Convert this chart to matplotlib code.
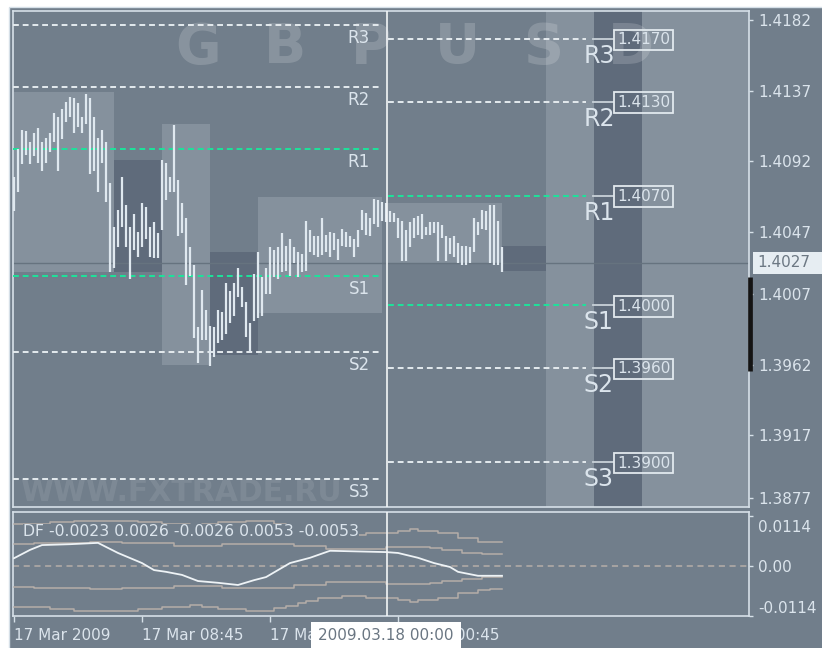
import matplotlib
matplotlib.use('Agg')
import matplotlib.pyplot as plt
import matplotlib.transforms as mtransforms
from matplotlib.patches import Rectangle
import numpy as np

# ---------------- data ----------------
# 15-minute GBPUSD bars, bar 0 = 17 Mar 2009 00:45
bar_high = [1.4082, 1.4100, 1.4112, 1.4111, 1.4104, 1.4110, 1.4113, 1.4104, 1.4107, 1.4110,
            1.4123, 1.4120, 1.4125, 1.4130, 1.4133, 1.4132, 1.4129, 1.4120, 1.4135, 1.4132,
            1.4120, 1.4107, 1.4112, 1.4104, 1.4078, 1.4050, 1.4061, 1.4082, 1.4064, 1.4050,
            1.4058, 1.4047, 1.4065, 1.4063, 1.4050, 1.4053, 1.4046, 1.4093, 1.4091, 1.4082,
            1.4115, 1.4080, 1.4065, 1.4056, 1.4037, 1.4026, 1.3986, 1.4010, 1.3997, 1.3987,
            1.3986, 1.3997, 1.3996, 1.4014, 1.4009, 1.4014, 1.4024, 1.4012, 1.4002, 1.3989,
            1.4020, 1.4034, 1.4018, 1.4024, 1.4037, 1.4035, 1.4037, 1.4046, 1.4038, 1.4042,
            1.4037, 1.4034, 1.4033, 1.4054, 1.4048, 1.4044, 1.4044, 1.4056, 1.4045, 1.4047,
            1.4046, 1.4042, 1.4049, 1.4047, 1.4044, 1.4042, 1.4048, 1.4061, 1.4059, 1.4056,
            1.4068, 1.4067, 1.4066, 1.4065, 1.4060, 1.4059, 1.4056, 1.4054, 1.4048, 1.4053,
            1.4056, 1.4057, 1.4058, 1.4050, 1.4053, 1.4053, 1.4053, 1.4051, 1.4044, 1.4043,
            1.4044, 1.4040, 1.4038, 1.4038, 1.4037, 1.4056, 1.4053, 1.4061, 1.4060, 1.4064,
            1.4064, 1.4054, 1.4037]
bar_low = [1.4060, 1.4072, 1.4090, 1.4096, 1.4090, 1.4095, 1.4091, 1.4086, 1.4091, 1.4098,
           1.4104, 1.4086, 1.4106, 1.4117, 1.4120, 1.4110, 1.4114, 1.4110, 1.4116, 1.4084,
           1.4086, 1.4072, 1.4091, 1.4066, 1.4021, 1.4024, 1.4037, 1.4050, 1.4037, 1.4017,
           1.4035, 1.4031, 1.4037, 1.4042, 1.4031, 1.4030, 1.4030, 1.4048, 1.4067, 1.4072,
           1.4072, 1.4044, 1.4046, 1.4013, 1.4019, 1.3979, 1.3963, 1.3978, 1.3978, 1.3961,
           1.3967, 1.3976, 1.3978, 1.3982, 1.3989, 1.3993, 1.4005, 1.3999, 1.3980, 1.3970,
           1.3990, 1.3992, 1.3993, 1.4007, 1.4007, 1.4018, 1.4017, 1.4021, 1.4022, 1.4019,
           1.4027, 1.4018, 1.4021, 1.4022, 1.4034, 1.4032, 1.4031, 1.4032, 1.4034, 1.4031,
           1.4035, 1.4029, 1.4038, 1.4037, 1.4037, 1.4031, 1.4037, 1.4048, 1.4045, 1.4044,
           1.4052, 1.4050, 1.4054, 1.4053, 1.4053, 1.4053, 1.4043, 1.4028, 1.4028, 1.4037,
           1.4043, 1.4045, 1.4042, 1.4045, 1.4045, 1.4046, 1.4028, 1.4043, 1.4028, 1.4033,
           1.4031, 1.4027, 1.4026, 1.4026, 1.4027, 1.4034, 1.4045, 1.4049, 1.4048, 1.4027,
           1.4026, 1.4026, 1.4021]
last_price = 1.4027

# trading-session boxes (bar start, bar end, high, low, shade); nan = future session
session_start = [0, 25, 37, 49, 61, 93, 122, 133, 145, 157]
session_end = [25, 37, 49, 61, 92, 122, 133, 145, 157, 190]
session_high = [1.4136, 1.4093, 1.4116, 1.4034, 1.4069, 1.4065, 1.4038, np.nan, np.nan, np.nan]
session_low = [1.4021, 1.4021, 1.3962, 1.3968, 1.3995, 1.4027, 1.4022, np.nan, np.nan, np.nan]
session_shade = ['light', 'dark', 'light', 'dark', 'light', 'light', 'dark', 'light', 'dark', 'light']

pivot_names = ['R3', 'R2', 'R1', 'S1', 'S2', 'S3']
prev_day_pivots = [1.4179, 1.4139, 1.4100, 1.4019, 1.3970, 1.3889]
cur_day_pivots = [1.4170, 1.4130, 1.4070, 1.4000, 1.3960, 1.3900]

range_marker = [1.3958, 1.4018]

price_ticks = [1.4182, 1.4137, 1.4092, 1.4047, 1.4007, 1.3962, 1.3917, 1.3877]
time_tick_bars = [0, 32, 64, 96]
time_tick_labels = ['17 Mar 2009', '17 Mar 08:45', '17 Mar 16:45', '18 Mar 00:45']
cross_bar = 93.25
cross_label = '2009.03.18 00:00'

# DF indicator
df_x = [0, 4, 7, 14, 21, 26, 32, 35, 38, 42, 46, 51, 56, 60, 63, 66, 69, 74, 79,
        93, 96, 101, 105, 109, 111, 116, 122]
df_v = [0.0017, 0.0036, 0.0047, 0.0049, 0.0052, 0.0029, 0.0006, -0.0010, -0.0014,
        -0.0021, -0.0035, -0.0039, -0.0044, -0.0033, -0.0026, -0.0010, 0.0006, 0.0018,
        0.0034, 0.0031, 0.0029, 0.0018, 0.0006, -0.0003, -0.0014, -0.0023, -0.0023]
inner_x = [0, 5, 19, 27, 40, 52, 70, 78, 93, 104, 107, 112, 117, 122]
inner_w = [0.0049, 0.0051, 0.0054, 0.0051, 0.0046, 0.0050, 0.0044, 0.0037, 0.0042,
           0.0040, 0.0035, 0.0030, 0.0026, 0.0026]
outer_x = [0, 9, 15, 31, 37, 44, 47, 51, 58, 65, 68, 71, 73, 76, 82, 88, 96, 99, 101,
           106, 111, 116, 119, 122]
outer_w = [0.0094, 0.0099, 0.0103, 0.0099, 0.0094, 0.0090, 0.0094, 0.0099, 0.0103,
           0.0096, 0.0092, 0.0085, 0.0080, 0.0074, 0.0069, 0.0074, 0.0078, 0.0083,
           0.0078, 0.0074, 0.0062, 0.0055, 0.0053, 0.0053]
ind_ticks = [0.0114, 0.0, -0.0114]
ind_tick_labels = ['0.0114', '0.00', '-0.0114']

# ---------------- style ----------------
BG = '#717e8b'
LIGHT_BOX = '#85919d'
DARK_BOX = '#5f6b7b'
FRAME = '#d6e0e8'
TXT = '#dbe4ec'
BARC = '#dfe8ef'
GREEN = '#1de39b'
DASHW = '#e4eaee'
BAND = '#b5aea9'
plt.rcParams['font.family'] = ['DejaVu Sans']

W, H, DPI = 822, 648, 100
fig = plt.figure(figsize=(W / DPI, H / DPI), dpi=DPI, facecolor='white')


def fx(px):
    return px / W


def fy(py):
    return 1 - py / H


fig.add_artist(Rectangle((fx(9), -0.05), 1.1, fy(7) + 0.05, transform=fig.transFigure,
                         fc=BG, ec=FRAME, lw=1.0, zorder=0))

ax = fig.add_axes([fx(13), fy(507), fx(749) - fx(13), fy(11) - fy(507)], facecolor=BG)
axi = fig.add_axes([fx(13), fy(616), fx(749) - fx(13), fy(512) - fy(616)], facecolor=BG)

XMIN, XMAX = -0.25, 183.75
ax.set_xlim(XMIN, XMAX)
ax.set_ylim(1.38713, 1.41878)
axi.set_xlim(XMIN, XMAX)
axi.set_ylim(-0.01147, 0.01224)

for a in (ax, axi):
    for s in a.spines.values():
        s.set_color(FRAME)
        s.set_linewidth(1.2)

# sessions
ylo, yhi = ax.get_ylim()
for s, e, hi, lo, sh in zip(session_start, session_end, session_high, session_low, session_shade):
    col = LIGHT_BOX if sh == 'light' else DARK_BOX
    if np.isnan(hi):
        hi, lo = yhi + 1, ylo - 1
    ax.add_patch(Rectangle((s, lo), e - s, hi - lo, fc=col, ec='none', zorder=1))

# watermarks
for k, ch in enumerate('GBPUSD'):
    ax.text((198 + 86.6 * k - 13) / 736, 0.925, ch, transform=ax.transAxes, ha='center',
            va='center', fontsize=40, fontweight='bold', color='white', alpha=0.17, zorder=1.5)
ax.text((20 - 13) / 736, 0.030, 'WWW.FXTRADE.RU', transform=ax.transAxes, ha='left',
        va='center', fontsize=21.5, fontweight='bold', color='white', alpha=0.09, zorder=1.5)

# current price line
ax.axhline(last_price, color='#66737f', lw=1.0, zorder=2)

# previous-day pivots
n_bars = len(bar_high)
day_split = 92
for name, v in zip(pivot_names, prev_day_pivots):
    col = GREEN if name in ('R1', 'S1') else DASHW
    ax.plot([XMIN, day_split], [v, v], color=col, lw=1.4, dashes=(3, 2), zorder=3)
    ax.annotate(name, xy=(89, v), xytext=(0, -13), textcoords='offset pixels', ha='right',
                va='center', fontsize=12, color=TXT, zorder=5)

# current-day pivots
for name, v in zip(pivot_names, cur_day_pivots):
    col = GREEN if name in ('R1', 'S1') else DASHW
    ax.plot([93.5, 143], [v, v], color=col, lw=1.4, dashes=(3, 2), zorder=3)
    ax.plot([144.75, 149.75], [v, v], color='#c9d2d9', lw=1.3, zorder=3)
    ax.annotate(name, xy=(142.3, v), xytext=(0, -17), textcoords='offset pixels', ha='left',
                va='center', fontsize=17, color=TXT, zorder=5)
    ax.annotate(f'{v:.4f}', xy=(150, v), xytext=(3, -1), textcoords='offset pixels', ha='left',
                va='center', fontsize=11, color=TXT, zorder=5,
                bbox=dict(boxstyle='square,pad=0.18', fc='none', ec='#e2e9ee', lw=1.3))

# bars
idx = np.arange(n_bars)
ax.vlines(idx, bar_low, bar_high, color=BARC, lw=1.6, zorder=4)

# crosshair
ax.axvline(cross_bar, color='#f2f5f7', lw=1.2, zorder=6)
axi.axvline(cross_bar, color='#f2f5f7', lw=1.2, zorder=6)

# range marker at the right edge
ax.plot([184, 184], range_marker, color='#141414', lw=3.4, solid_capstyle='butt',
        clip_on=False, zorder=7)

# price axis
ax.set_xticks([])
ax.yaxis.tick_right()
ax.set_yticks(price_ticks)
ax.set_yticklabels([f'{v:.4f}' for v in price_ticks])
ax.tick_params(axis='y', colors=FRAME, labelcolor=TXT, labelsize=11, length=3, width=1,
               pad=3.5, direction='out')

# current price tag
tr = mtransforms.blended_transform_factory(ax.transAxes, ax.transData)
ax.add_patch(Rectangle((1 + 4 / 736, last_price - 0.00070), 80 / 736, 0.00140, transform=tr,
                       fc='#e6edf2', ec='none', clip_on=False, zorder=8))
ax.text(1 + 8 / 736, last_price, f'{last_price:.4f}', transform=tr, ha='left', va='center',
        fontsize=11, color='#6c7883', zorder=9, clip_on=False)

# indicator
axi.axhline(0, color=BAND, lw=1.1, dashes=(4, 3), zorder=2)
ix = np.array(inner_x)
iw = np.array(inner_w)
ox = np.array(outer_x)
ow = np.array(outer_w)
axi.plot(ix, iw, drawstyle='steps-post', color=BAND, lw=1.1, zorder=3)
axi.plot(ix, -iw, drawstyle='steps-post', color=BAND, lw=1.1, zorder=3)
axi.plot(ox, ow, drawstyle='steps-post', color=BAND, lw=1.1, zorder=3)
axi.plot(ox, -ow, drawstyle='steps-post', color=BAND, lw=1.1, zorder=3)
axi.plot(df_x, df_v, color='#eef3f6', lw=1.3, zorder=4)

legend = (f'DF {df_v[-1]:.4f} {inner_w[-1]:.4f} {-inner_w[-1]:.4f} '
          f'{outer_w[-1]:.4f} {-outer_w[-1]:.4f}')
axi.text((23 - 13) / 736, (616 - 531.5) / 104, legend, transform=axi.transAxes, ha='left',
         va='center', fontsize=11.3, color=TXT, zorder=5,
         bbox=dict(boxstyle='square,pad=0.0', fc=BG, ec='none'))

axi.yaxis.tick_right()
axi.set_yticks(ind_ticks)
axi.set_yticklabels(ind_tick_labels)
axi.tick_params(axis='y', colors=FRAME, labelcolor=TXT, labelsize=11, length=3, width=1,
                pad=3.5, direction='out')
yl = axi.get_yticklabels()
yl[0].set_va('top')
yl[0].set_transform(yl[0].get_transform() +
                    mtransforms.ScaledTranslation(0, -3 / 72, fig.dpi_scale_trans))
yl[-1].set_va('bottom')

axi.set_xticks(time_tick_bars)
axi.set_xticklabels(time_tick_labels)
axi.tick_params(axis='x', colors=FRAME, labelcolor=TXT, labelsize=11, length=4, width=1,
                pad=5, direction='out')
for t in axi.get_xticklabels():
    t.set_ha('left')

fig.text(fx(386), fy(636), cross_label, ha='center', va='center', fontsize=11,
         color='#6a7682', zorder=20,
         bbox=dict(boxstyle='square,pad=0.45', fc='white', ec='none'))

fig.savefig('out.png', dpi=DPI, facecolor='white')
